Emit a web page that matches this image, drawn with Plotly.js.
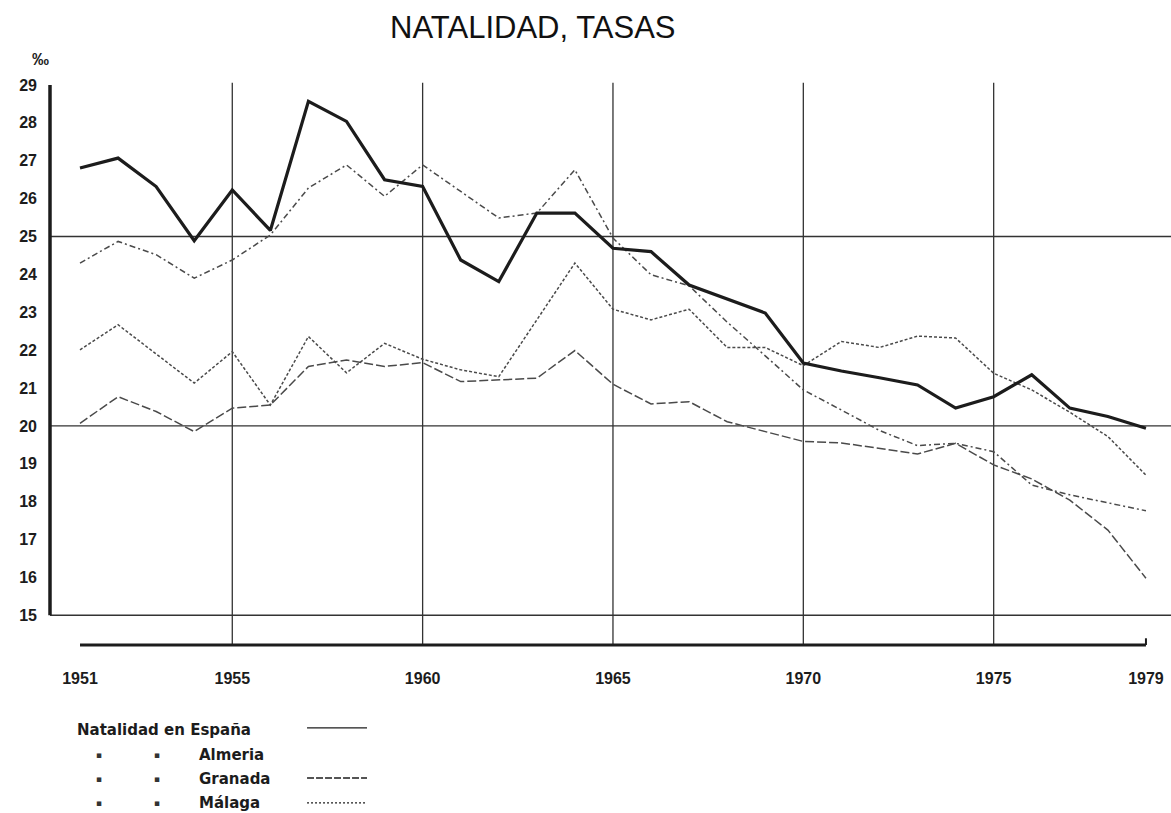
<!DOCTYPE html>
<html>
<head>
<meta charset="utf-8">
<script src="https://cdn.plot.ly/plotly-3.0.1.min.js"></script>
<style>html,body{margin:0;padding:0;background:#fff;}#chart{width:1171px;height:813px;}</style>
</head>
<body>
<div id="chart"></div>
<script>
// ---- data (birth rates, per mil) ----
const years = [1951,1952,1953,1954,1955,1956,1957,1958,1959,1960,1961,1962,1963,1964,1965,1966,1967,1968,1969,1970,1971,1972,1973,1974,1975,1976,1977,1978,1979];
const almeria = [26.81,27.07,26.32,24.89,26.23,25.16,28.57,28.04,26.50,26.32,24.38,23.81,25.62,25.62,24.69,24.60,23.72,23.35,22.98,21.66,21.45,21.27,21.08,20.47,20.77,21.35,20.47,20.25,19.94];
const granada = [24.30,24.87,24.52,23.90,24.38,25.04,26.28,26.89,26.06,26.89,26.19,25.49,25.62,26.76,24.96,23.99,23.70,22.74,21.85,20.95,20.42,19.88,19.48,19.54,19.32,18.44,18.18,17.96,17.76];
const malaga = [22.01,22.67,21.90,21.13,21.96,20.55,22.36,21.40,22.18,21.76,21.48,21.30,22.80,24.30,23.08,22.80,23.08,22.07,22.07,21.59,22.23,22.07,22.37,22.32,21.39,20.95,20.36,19.72,18.70];
const espana = [20.07,20.77,20.38,19.85,20.47,20.55,21.57,21.74,21.57,21.67,21.17,21.21,21.26,21.99,21.10,20.58,20.64,20.11,19.85,19.59,19.55,19.41,19.26,19.54,18.97,18.60,18.04,17.25,15.98];

const xTickYears = [1951,1955,1960,1965,1970,1975,1979];
const gridYears = [1955,1960,1965,1970,1975];
const yTicks = [15,16,17,18,19,20,21,22,23,24,25,26,27,28,29];
const gridVals = [15,20,25];

const titleText = 'NATALIDAD, TASAS';
const unitText = '‰';
const dittoMark = '▪';
const legendRows = [
  {label:'Natalidad en España', ditto:false},
  {label:'Almeria', ditto:true},
  {label:'Granada', ditto:true},
  {label:'Málaga', ditto:true}
];

// ---- styling ----
const ink = '#1c1c1c';
const thin = '#4a4a4a';
const font = 'Liberation Sans, Arial, sans-serif';

const traces = [
  {x: years, y: espana, name: 'Natalidad en España', mode: 'lines',
   line: {color: thin, width: 1.5, dash: '9px,3px'}},
  {x: years, y: malaga, name: 'Málaga', mode: 'lines',
   line: {color: thin, width: 1.5, dash: '3px,2px'}},
  {x: years, y: granada, name: 'Granada', mode: 'lines',
   line: {color: thin, width: 1.5, dash: '6px,3px,2px,3px'}},
  {x: years, y: almeria, name: 'Almeria', mode: 'lines',
   line: {color: ink, width: 3.2}}
];

// plot area geometry: left 50px, top 85px, bottom 645px, right edge of page
const shapes = [];
gridVals.forEach(v => shapes.push({type:'line', layer:'below', xref:'paper', yref:'y',
  x0:0, x1:1, y0:v, y1:v, line:{color:'#333', width:1.4}}));
gridYears.forEach(yr => shapes.push({type:'line', layer:'below', xref:'x', yref:'paper',
  x0:yr, x1:yr, y0:0, y1:1.004, line:{color:'#333', width:1.3}}));
// left axis line (15 to 29)
shapes.push({type:'line', xref:'paper', yref:'y', x0:0, x1:0, y0:yTicks[0], y1:yTicks[yTicks.length-1],
  line:{color:ink, width:3.5}});
// bottom thick axis line from first to last year
shapes.push({type:'line', xref:'x', yref:'paper', x0:years[0], x1:years[years.length-1], y0:0, y1:0,
  line:{color:ink, width:3}});
shapes.push({type:'line', xref:'x', yref:'paper', x0:years[years.length-1], x1:years[years.length-1], y0:0, y1:0.012,
  line:{color:ink, width:2}});

// legend (drawn as text + sample lines, as in the original)
const rowY = [-0.152, -0.197, -0.240, -0.282];
const sampleY = [-0.148, null, -0.2375, -0.282];
const sampleDash = ['solid', null, '7px,2px', '2px,2px'];
const annotations = [
  {text: unitText, xref:'paper', yref:'paper', x:-0.018, y:1.066, showarrow:false,
   font:{family:font, size:17, color:ink, weight:'bold'}}
];
legendRows.forEach((r, i) => {
  if (r.ditto) {
    [0.0405, 0.0915].forEach(dx => annotations.push({text:dittoMark, xref:'paper', yref:'paper', x:dx, y:rowY[i],
      yanchor:'middle', showarrow:false, borderpad:0,
      font:{family:'DejaVu Sans, sans-serif', size:9, color:'#333'}}));
  }
  annotations.push({text:r.label, xref:'paper', yref:'paper',
    x: r.ditto ? 0.132 : 0.0235, xanchor:'left', y:rowY[i], yanchor:'middle', showarrow:false, borderpad:0,
    font:{family:'DejaVu Sans, sans-serif', size:15, color:ink, weight:'bold'}});
  if (sampleY[i] !== null) {
    shapes.push({type:'line', xref:'paper', yref:'paper', x0:0.2293, x1:0.2828, y0:sampleY[i], y1:sampleY[i],
      line:{color:ink, width:1.3, dash:sampleDash[i]}});
  }
});

const layout = {
  width: 1171, height: 813,
  paper_bgcolor: '#ffffff', plot_bgcolor: '#ffffff',
  margin: {l:50, r:0, t:85, b:168, pad:0},
  showlegend: false,
  title: {text: titleText, x: 0.455, xanchor:'center', y: 0.966, yanchor:'middle',
          font: {family: font, size: 31, color: '#111'}},
  xaxis: {range:[1950.212, 1979.658], tickmode:'array', tickvals:xTickYears, ticktext:xTickYears.map(String),
          showgrid:false, zeroline:false, showline:false, ticks:'', ticklabelstandoff:22,
          tickfont:{family:font, size:16, color:ink, weight:'bold'}},
  yaxis: {range:[14.216, 29], tickmode:'array', tickvals:yTicks, ticktext:yTicks.map(String),
          showgrid:false, zeroline:false, showline:false, ticks:'', ticklabelstandoff:12,
          tickfont:{family:font, size:16, color:ink, weight:'bold'}},
  shapes: shapes,
  annotations: annotations
};

Plotly.newPlot('chart', traces, layout, {staticPlot:true, displayModeBar:false});
</script>
</body>
</html>
